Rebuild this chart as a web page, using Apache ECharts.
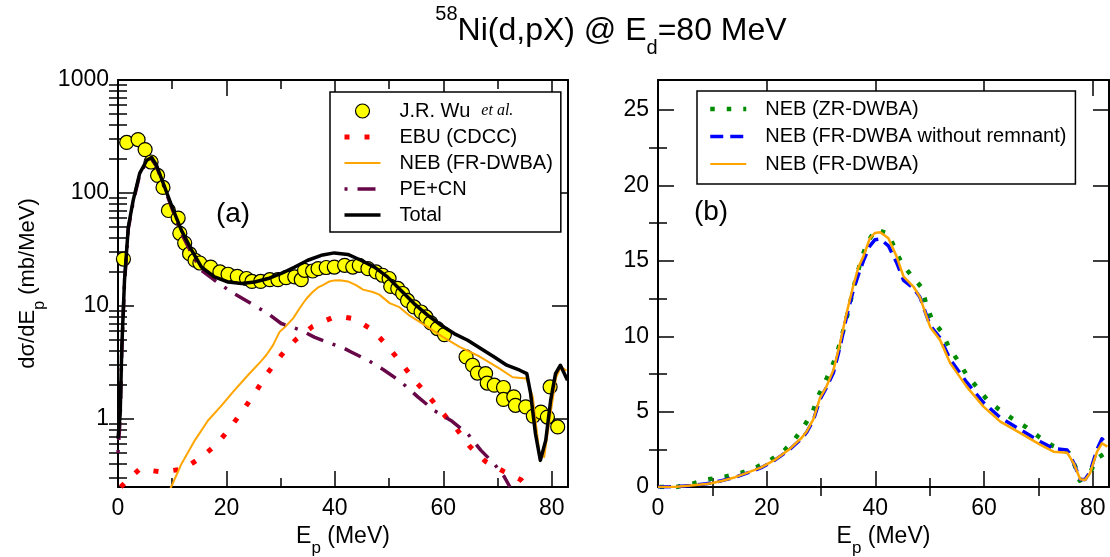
<!DOCTYPE html>
<html><head><meta charset="utf-8">
<script src="https://cdn.jsdelivr.net/npm/echarts@6/dist/echarts.min.js"></script>
<style>html,body{margin:0;padding:0;background:#fff}#c{width:1110px;height:557px}</style>
</head><body><div id="c"></div>
<script>
// ---------- data ----------
const xTicks = [0, 20, 40, 60, 80];
const xMinor = [10, 30, 50, 70];
const logTicks = [1, 10, 100, 1000];
const logMinor = [0.3,0.4,0.5,0.6,0.7,0.8,0.9,2,3,4,5,6,7,8,9,20,30,40,50,60,70,80,90,200,300,400,500,600,700,800,900];
const linTicks = [0, 5, 10, 15, 20, 25];
const linMinor = [2.5, 7.5, 12.5, 17.5, 22.5];

// J.R. Wu et al. (experiment)
const expE = [1.0,1.6,3.7,5.0,6.1,7.3,8.3,9.3,11.1,11.4,12.3,13.2,14.2,15.1,17.1,18.8,20.3,22.0,23.7,24.7,26.3,28.0,29.5,31.0,32.6,33.8,34.4,35.9,36.9,38.4,39.9,41.8,43.3,44.5,46.1,47.6,48.8,50.0,50.3,51.6,52.5,53.4,54.6,55.9,56.8,57.7,58.9,60.2,64.2,65.4,66.3,67.8,68.1,69.4,71.1,71.1,73.0,73.3,75.2,76.6,78.0,79.2,79.7,81.1];
const expV = [26,280,297,242,188,143,112,70,60,44,36,29,25.4,24.0,22.1,20.0,19.1,18.3,17.5,16.5,16.5,17.1,17.1,17.8,18.1,17.1,20.7,20.4,21.4,21.9,22.1,22.9,22.1,22.9,21.4,20.0,18.7,17.5,14.9,14.3,12.9,11.2,9.8,8.85,8.0,7.08,6.31,5.58,3.54,2.99,2.55,2.52,2.08,1.99,1.90,1.49,1.57,1.32,1.28,1.06,1.15,1.04,1.92,0.85];

// Total
const totE = [0,0.4,0.7,1.2,1.9,2.8,4.0,5.3,6.2,7.1,8.6,10.2,11.7,13.6,15.4,17.8,20.3,22.8,25.2,27.7,30.1,32.6,35.0,37.5,39.9,42.4,44.8,47.3,49.7,52.2,54.6,57.1,59.6,62.0,64.5,66.9,69.4,71.7,74.1,75.4,76.1,77.0,77.9,78.9,79.8,80.7,81.6,82.9];
const totV = [0.67,1.1,4.3,16.9,50,86,149,195,206,176,113,70.5,46.7,31.1,22.1,18.1,16.3,15.8,16.3,17.5,19.4,22.1,25.4,28.1,29.5,28.6,25.4,22.1,18.1,13.7,10.5,8.3,6.75,5.7,4.97,4.2,3.54,2.99,2.7,2.52,1.68,0.74,0.43,0.65,1.46,2.52,2.99,2.2];

// NEB (FR-DWBA)
const nebE = [0,3.4,6.0,8.9,9.8,11.7,14.2,16.6,19.0,21.5,24.0,26.4,27.4,28.6,29.8,31.0,32.3,33.5,34.7,35.9,36.9,37.8,39.0,39.9,40.9,42.4,43.9,45.2,47.0,48.2,50.1,51.9,53.8,56.8,59.9,63.0,66.7,70.4,72.8,75.3,76.5,77.7,78.6,79.5,80.8,81.7,82.7];
const nebV = [0,0.02,0.1,0.2,0.25,0.4,0.65,0.97,1.3,1.8,2.45,3.25,3.7,4.5,5.9,6.66,7.77,9.54,11.53,13.3,14.6,15.3,16.5,16.85,16.9,16.5,15.3,13.96,13.3,12.6,10.6,9.76,8.2,6.66,5.33,4.34,3.57,2.79,2.34,2.28,1.57,0.51,0.46,0.91,2.34,2.9,2.68];

// NEB (FR-DWBA without remnant)
const fwE = [0,3.4,6.0,8.9,9.8,11.7,14.2,16.6,19.0,21.5,24.0,26.4,27.4,28.6,29.8,31.0,32.3,33.5,34.7,35.9,36.9,37.8,39.0,39.9,40.9,42.4,43.9,45.2,47.0,48.2,50.1,51.9,53.8,56.8,59.9,63.0,66.7,70.4,72.8,75.3,76.5,77.7,78.6,79.5,80.8,81.7,82.7];
const fwV = [0,0.02,0.1,0.22,0.27,0.42,0.65,0.95,1.28,1.78,2.42,3.2,3.65,4.45,5.8,6.6,7.6,9.3,11.3,13.0,14.1,15.0,16.0,16.4,16.45,16.0,14.9,13.7,13.2,12.6,10.7,9.9,8.45,6.95,5.6,4.6,3.8,3.0,2.55,2.45,1.6,0.5,0.5,1.0,2.5,3.2,2.8];

// NEB (ZR-DWBA)
const zrE = [0.3,3.4,6.5,9.2,12.3,15.4,18.1,20.7,23.2,25.2,26.9,28.5,29.5,30.7,32.0,33.0,33.8,34.6,35.3,35.9,36.7,37.5,38.5,40.1,42.4,43.6,44.9,46.7,48.6,49.3,50.4,52.2,53.5,55.1,56.7,58.6,60.5,62.7,65.1,67.8,70.2,72.7,75.6,76.8,77.6,79.6,80.8,82.7];
const zrV = [0,0,0.24,0.51,0.68,0.95,1.31,1.79,2.41,3.19,4.05,5.0,6.04,6.93,7.95,8.92,9.98,11.04,12.1,13.1,14.2,15.2,16.2,17.1,16.8,15.8,14.8,14.0,13.2,12.2,11.1,10.3,9.3,8.43,7.5,6.66,5.82,5.16,4.56,3.96,3.30,2.72,2.28,1.35,0.42,1.02,1.9,2.34];

// EBU (CDCC)
const ebuE = [0.5,1.5,4.0,8.0,12.0,15.4,18.4,20.8,23.3,25.5,27.6,30.1,32.8,35.9,39.6,41.5,43.6,47.0,49.7,52.2,54.6,57.3,59.8,62.5,64.9,67.8,71.3,74.3,75.5];
const ebuV = [0.25,0.28,0.36,0.34,0.36,0.46,0.61,0.85,1.24,1.77,2.55,3.66,5.04,6.6,7.9,8.0,7.7,6.1,4.42,3.15,2.23,1.59,1.14,0.81,0.57,0.42,0.34,0.29,0.25];

// PE+CN
const peE = [0,0.4,0.7,1.2,1.9,2.8,4.0,5.3,6.2,7.1,8.6,10.2,11.7,13.6,15.4,17.8,20.9,24.0,27.7,30.1,33.8,36.2,39.3,41.8,43.0,46.1,49.1,52.2,55.3,58.3,61.4,64.5,66.9,69.4,71.2,72.3];
const peV = [0.5,1.0,4.0,16,48,83,145,190,200,172,110,68,44,29,20.7,16.9,13.3,10.9,8.56,7.0,6.1,5.3,4.65,4.2,3.92,3.31,2.7,2.13,1.57,1.19,0.97,0.74,0.53,0.40,0.31,0.25];

const leftLegend = ['J.R. Wu et al.', 'EBU (CDCC)', 'NEB (FR-DWBA)', 'PE+CN', 'Total'];
const rightLegend = ['NEB (ZR-DWBA)', 'NEB (FR-DWBA without remnant)', 'NEB (FR-DWBA)'];

// ---------- helpers ----------
function zip(a, b) { return a.map((x, i) => [x, b[i]]); }
function zipPos(a, b) { return zip(a, b).filter(p => p[1] > 0); }
const FONT = '"Liberation Sans", Arial, Helvetica, sans-serif';
const BLACK = '#000';

function xAxesFor(g) {
  const base = { gridIndex: g, type: 'value', min: 0, max: 83, splitLine: { show: false } };
  const tickLine = { color: BLACK, width: 1.5 };
  return [
    Object.assign({}, base, {
      position: 'bottom',
      axisLine: { show: true, onZero: false, lineStyle: { color: BLACK, width: 2 } },
      axisTick: { show: true, inside: true, length: 16, customValues: xTicks, lineStyle: tickLine },
      axisLabel: { show: true, customValues: xTicks, margin: 10, fontSize: 23, color: BLACK, fontFamily: FONT },
      name: '{m|E}{s|p}{m| (MeV)}', nameLocation: 'middle', nameGap: 25,
      nameTextStyle: { color: BLACK, fontFamily: FONT, rich: {
        m: { fontSize: 23, fontFamily: FONT, color: BLACK, lineHeight: 40, verticalAlign: 'middle' },
        s: { fontSize: 17, fontFamily: FONT, color: BLACK, lineHeight: 17, verticalAlign: 'bottom' } } }
    }),
    Object.assign({}, base, {
      position: 'bottom', axisLine: { show: false },
      axisTick: { show: true, inside: true, length: 9, customValues: xMinor, lineStyle: tickLine },
      axisLabel: { show: false }
    }),
    Object.assign({}, base, {
      position: 'top',
      axisLine: { show: true, onZero: false, lineStyle: { color: BLACK, width: 2 } },
      axisTick: { show: true, inside: true, length: 16, customValues: xTicks, lineStyle: tickLine },
      axisLabel: { show: false }
    }),
    Object.assign({}, base, {
      position: 'top', axisLine: { show: false },
      axisTick: { show: true, inside: true, length: 9, customValues: xMinor, lineStyle: tickLine },
      axisLabel: { show: false }
    })
  ];
}

function yAxesFor(g, type, min, max, major, minor, withName) {
  const base = { gridIndex: g, type: type, min: min, max: max, splitLine: { show: false } };
  if (type === 'log') base.logBase = 10;
  const tickLine = { color: BLACK, width: 1.5 };
  const main = Object.assign({}, base, {
    position: 'left',
    axisLine: { show: true, onZero: false, lineStyle: { color: BLACK, width: 2 } },
    axisTick: { show: true, inside: true, length: 16, customValues: major, lineStyle: tickLine },
    axisLabel: { show: true, customValues: major, margin: 9, fontSize: 23, color: BLACK, fontFamily: FONT,
      formatter: v => String(Math.round(v * 1000) / 1000) }
  });
  if (withName) {
    Object.assign(main, {
      name: '{m|dσ/dE}{s|p}{m| (mb/MeV)}', nameLocation: 'middle', nameGap: 70, nameRotate: 90,
      nameTextStyle: { color: BLACK, fontFamily: FONT, rich: {
        m: { fontSize: 22, fontFamily: FONT, color: BLACK, lineHeight: 40, verticalAlign: 'middle' },
        s: { fontSize: 16, fontFamily: FONT, color: BLACK, lineHeight: 16, verticalAlign: 'bottom' } } }
    });
  }
  return [
    main,
    Object.assign({}, base, {
      position: 'left', axisLine: { show: false },
      axisTick: { show: true, inside: true, length: 9, customValues: minor, lineStyle: tickLine },
      axisLabel: { show: false }
    }),
    Object.assign({}, base, {
      position: 'right',
      axisLine: { show: true, onZero: false, lineStyle: { color: BLACK, width: 2 } },
      axisTick: { show: true, inside: true, length: 16, customValues: major, lineStyle: tickLine },
      axisLabel: { show: false }
    }),
    Object.assign({}, base, {
      position: 'right', axisLine: { show: false },
      axisTick: { show: true, inside: true, length: 9, customValues: minor, lineStyle: tickLine },
      axisLabel: { show: false }
    })
  ];
}

function lineSeries(name, xi, yi, data, color, width, dash, z) {
  return {
    name: name, type: 'line', xAxisIndex: xi, yAxisIndex: yi, data: data,
    showSymbol: false, symbol: 'none', smooth: false, z: z || 3,
    lineStyle: { color: color, width: width, type: dash || 'solid', cap: 'butt', join: 'round' },
    itemStyle: { color: color }, emphasis: { disabled: true }
  };
}

function legendItems(names) {
  return names.map(n => n === 'J.R. Wu et al.' ? { name: n } : { name: n, itemStyle: { opacity: 0 } });
}

const legendCommon = {
  orient: 'vertical', itemWidth: 36, itemHeight: 14, selectedMode: false,
  borderColor: BLACK, borderWidth: 1.5, backgroundColor: '#fff', borderRadius: 0,
  lineStyle: { width: 'inherit' }, itemStyle: { borderWidth: 'inherit' },
  textStyle: { fontSize: 20, color: BLACK, fontFamily: FONT, padding: [0, 0, 0, 14],
    rich: {
      a: { fontSize: 20, color: BLACK, fontFamily: FONT },
      b: { fontSize: 16, color: BLACK, fontStyle: 'italic', fontFamily: '"Liberation Serif", "Times New Roman", serif' }
    } },
  formatter: function (n) { return n === 'J.R. Wu et al.' ? '{a|J.R. Wu}  {b|et al.}' : n; }
};

const chart = echarts.init(document.getElementById('c'), null, { renderer: 'canvas' });
chart.setOption({
  animation: false,
  backgroundColor: '#fff',
  grid: [
    { left: 118, top: 80, width: 450, height: 407, containLabel: false, outerBoundsMode: 'none' },
    { left: 658, top: 80, width: 451, height: 407, containLabel: false, outerBoundsMode: 'none' }
  ],
  xAxis: xAxesFor(0).concat(xAxesFor(1)),
  yAxis: yAxesFor(0, 'log', 0.25, 1000, logTicks, logMinor, true)
    .concat(yAxesFor(1, 'value', 0, 27, linTicks, linMinor, false)),
  legend: [
    Object.assign({}, legendCommon, { left: 330, top: 92, itemGap: 6, padding: [9, 8, 7, 12], data: legendItems(leftLegend) }),
    Object.assign({}, legendCommon, { left: 697, top: 91, itemGap: 7.5, padding: [8, 9, 10, 11], data: legendItems(rightLegend) })
  ],
  graphic: [
    { type: 'text', x: 611, y: 31, style: {
      text: '{u|58}{m|Ni(d,pX) @ E}{d|d}{m|=80 MeV}', align: 'center', verticalAlign: 'middle',
      rich: {
        m: { fontSize: 32, fontFamily: FONT, fill: BLACK, lineHeight: 54, verticalAlign: 'middle' },
        u: { fontSize: 20, fontFamily: FONT, fill: BLACK, lineHeight: 22, verticalAlign: 'top' },
        d: { fontSize: 20, fontFamily: FONT, fill: BLACK, lineHeight: 22, verticalAlign: 'bottom' }
      } } },
    { type: 'text', x: 233, y: 214, style: { text: '(a)', fontSize: 28, fontFamily: FONT, fill: BLACK, align: 'center', verticalAlign: 'middle' } },
    { type: 'text', x: 711, y: 212, style: { text: '(b)', fontSize: 28, fontFamily: FONT, fill: BLACK, align: 'center', verticalAlign: 'middle' } }
  ],
  series: [
    { name: 'J.R. Wu et al.', type: 'scatter', xAxisIndex: 0, yAxisIndex: 0, data: zipPos(expE, expV),
      symbol: 'circle', symbolSize: 14, z: 2,
      itemStyle: { color: '#ffff00', borderColor: BLACK, borderWidth: 1.2, opacity: 1 }, emphasis: { disabled: true } },
    lineSeries('EBU (CDCC)', 0, 0, zipPos(ebuE, ebuV), '#ff0000', 5, [5, 15]),
    lineSeries('NEB (FR-DWBA)', 0, 0, zipPos(nebE, nebV), '#ffa500', 2),
    lineSeries('PE+CN', 0, 0, zipPos(peE, peV), '#670748', 3.5, [3, 10, 18, 10]),
    lineSeries('Total', 0, 0, zipPos(totE, totV), BLACK, 3.5, null, 4),
    lineSeries('NEB (ZR-DWBA)', 4, 4, zip(zrE, zrV), '#008b00', 4.5, [4.5, 12]),
    lineSeries('NEB (FR-DWBA without remnant)', 4, 4, zip(fwE, fwV), '#0000ff', 3.5, [13, 7]),
    lineSeries('NEB (FR-DWBA)', 4, 4, zip(nebE, nebV), '#ffa500', 2.5, null, 4)
  ]
});
</script>
</body></html>
